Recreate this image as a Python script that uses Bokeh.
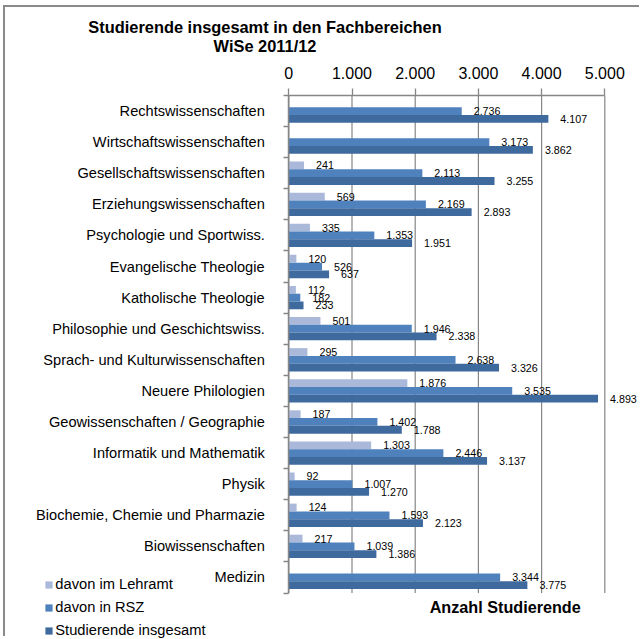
from bokeh.plotting import figure
from bokeh.models import (ColumnDataSource, Range1d, LinearAxis, FixedTicker, LabelSet, Label,
                          Legend, LegendItem)
from bokeh.core.properties import value
from bokeh.transform import dodge
from bokeh.embed import file_html
from bokeh.resources import INLINE

# ---- data ----
categories = [
    "Rechtswissenschaften",
    "Wirtschaftswissenschaften",
    "Gesellschaftswissenschaften",
    "Erziehungswissenschaften",
    "Psychologie und Sportwiss.",
    "Evangelische Theologie",
    "Katholische Theologie",
    "Philosophie und Geschichtswiss.",
    "Sprach- und Kulturwissenschaften",
    "Neuere Philologien",
    "Geowissenschaften / Geographie",
    "Informatik und Mathematik",
    "Physik",
    "Biochemie, Chemie und Pharmazie",
    "Biowissenschaften",
    "Medizin",
]
lehramt = [None, None, 241, 569, 335, 120, 112, 501, 295, 1876, 187, 1303, 92, 124, 217, None]
rsz = [2736, 3173, 2113, 2169, 1353, 526, 182, 1946, 2638, 3535, 1402, 2446, 1007, 1593, 1039, 3344]
insgesamt = [4107, 3862, 3255, 2893, 1951, 637, 233, 2338, 3326, 4893, 1788, 3137, 1270, 2123, 1386, 3775]
series_names = ["davon im Lehramt", "davon in RSZ", "Studierende insgesamt"]
x_ticks = [0, 1000, 2000, 3000, 4000, 5000]
x_tick_labels = ["0", "1.000", "2.000", "3.000", "4.000", "5.000"]
title_lines = ["Studierende insgesamt in den Fachbereichen", "WiSe 2011/12"]
x_title = "Anzahl Studierende"

# ---- styling / layout (page pixel positions) ----
colors = ["#AAB9D9", "#4F81BD", "#3F6A9E"]
offsets = [0.25, 0.0, -0.25]
FONT = "Liberation Sans"
GRAY = "#868686"
OX, OY = 5, 7            # canvas origin on the page (after CSS margin + border)
W, H = 636, 631


def sx(px):
    return px - OX


def sy(py):
    return H - (py - OY)


X0_PX = sx(288.3)          # canvas x of value 0
PX_PER_X = 316.0 / 5000    # pixels per student
Y_TOP_PX, Y_BOT_PX = 95.0 - OY, 592.5 - OY
n = len(categories)
ppu = (Y_BOT_PX - Y_TOP_PX) / n

pos = {c: n - i - 0.5 for i, c in enumerate(categories)}


def fmt(v):
    return f"{v:,}".replace(",", ".")


def make_source(vals):
    cs = [c for c, v in zip(categories, vals) if v is not None]
    vs = [v for v in vals if v is not None]
    return ColumnDataSource(dict(cat=cs, pos=[pos[c] for c in cs], val=vs, lab=[fmt(v) for v in vs]))


p = figure(
    width=W, height=H,
    x_range=Range1d(-X0_PX / PX_PER_X, (W - X0_PX) / PX_PER_X),
    y_range=Range1d(-(H - Y_BOT_PX) / ppu, n + Y_TOP_PX / ppu),
    x_axis_location=None, y_axis_location=None,
    output_backend="svg", toolbar_location=None,
    min_border_left=0, min_border_right=0, min_border_top=0, min_border_bottom=0,
)
p.styles = {"margin-left": "3px", "margin-top": "5px",
            "border-top": "2px solid #8a8a8a", "border-left": "2px solid #8a8a8a"}
p.outline_line_color = None
p.background_fill_color = "white"
p.border_fill_color = "white"
p.xgrid.visible = False
p.ygrid.visible = False

# vertical gridlines only across the category area
p.segment(x0=x_ticks, x1=x_ticks, y0=0, y1=n, line_color=GRAY, line_width=1.2)

# top value axis
xa = LinearAxis(fixed_location=n, bounds=(x_ticks[0], x_ticks[-1]))
xa.ticker = FixedTicker(ticks=x_ticks)
xa.major_label_overrides = {t: l for t, l in zip(x_ticks, x_tick_labels)}
xa.major_label_text_font = FONT
xa.major_label_text_font_size = "16px"
xa.major_label_text_color = "#000000"
xa.major_label_standoff = 10
xa.major_tick_out = 7
xa.major_tick_in = 0
xa.minor_tick_line_color = None
xa.axis_line_color = GRAY
xa.axis_line_width = 1.5
xa.major_tick_line_color = GRAY
xa.major_tick_line_width = 1.3
p.add_layout(xa, "above")

# left category axis: labels at category centres, ticks at boundaries
ya = LinearAxis(fixed_location=0, bounds=(0, n))
ya.ticker = FixedTicker(ticks=[pos[c] for c in categories], minor_ticks=list(range(n + 1)))
ya.major_label_overrides = {pos[c]: c for c in categories}
ya.major_label_text_font = FONT
ya.major_label_text_font_size = "14.6px"
ya.major_label_text_color = "#000000"
ya.major_label_standoff = 19
ya.major_tick_line_color = None
ya.major_tick_out = 0
ya.major_tick_in = 0
ya.minor_tick_out = 5
ya.minor_tick_in = 0
ya.minor_tick_line_color = GRAY
ya.minor_tick_line_width = 1.3
ya.axis_line_color = GRAY
ya.axis_line_width = 1.5
p.add_layout(ya, "left")

# bars and labels
items = []
for vals, name, col, off in zip([lehramt, rsz, insgesamt], series_names, colors, offsets):
    src = make_source(vals)
    yd = dodge("pos", off)
    r = p.hbar(y=yd, left=0, right="val", height=0.25, source=src,
               fill_color=col, line_color=None)
    items.append(LegendItem(label=name, renderers=[r]))
    p.add_layout(LabelSet(x="val", y=yd, text="lab", source=src, x_offset=12,
                          text_align="left", text_baseline="middle",
                          text_font=value(FONT), text_font_size=value("10.7px"),
                          text_color="#000000"))

legend = Legend(items=items, location=(sx(44.3), sy(639)), orientation="vertical",
                glyph_width=9, glyph_height=9, label_height=18, spacing=5,
                label_standoff=2, padding=0, margin=0,
                border_line_color=None, background_fill_alpha=0,
                label_text_font=FONT, label_text_font_size="14.7px", label_text_color="#000000")
p.add_layout(legend)

# titles (screen units: from left / bottom of the canvas)
for txt, yy in zip(title_lines, [26.5, 45]):
    p.add_layout(Label(x=sx(264.5), y=sy(yy), x_units="screen", y_units="screen", text=txt,
                       text_align="center", text_baseline="alphabetic",
                       text_font=FONT, text_font_size="16.4px", text_font_style="bold",
                       text_color="#000000"))
p.add_layout(Label(x=sx(504.7), y=sy(606.7), x_units="screen", y_units="screen", text=x_title,
                   text_align="center", text_baseline="middle",
                   text_font=FONT, text_font_size="16.2px", text_font_style="bold",
                   text_color="#000000"))

open("out.html", "w").write(file_html(p, INLINE, title="Studierende"))
